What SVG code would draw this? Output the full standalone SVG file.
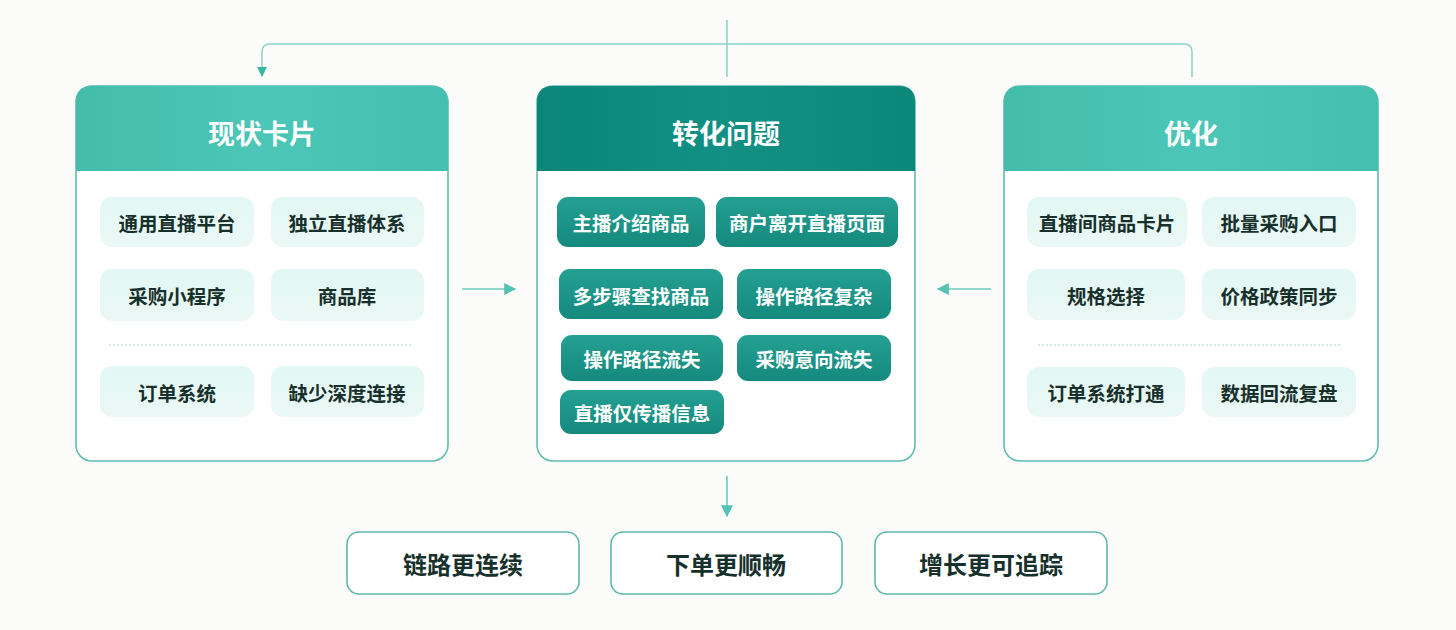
<svg xmlns="http://www.w3.org/2000/svg" width="1456" height="630" viewBox="0 0 1456 630">
<defs>
<linearGradient id="hdrLight" x1="0" y1="0" x2="1" y2="0">
<stop offset="0" stop-color="#43bcac"/><stop offset="0.5" stop-color="#4cc6b6"/><stop offset="1" stop-color="#45c0b0"/>
</linearGradient>
<linearGradient id="hdrDark" x1="0" y1="0" x2="1" y2="0">
<stop offset="0" stop-color="#0b8679"/><stop offset="0.5" stop-color="#119083"/><stop offset="1" stop-color="#0c887b"/>
</linearGradient>
<linearGradient id="pillDark" x1="0" y1="0" x2="0" y2="1">
<stop offset="0" stop-color="#24a093"/><stop offset="1" stop-color="#15897d"/>
</linearGradient>
<linearGradient id="pillLight" x1="0" y1="0" x2="0" y2="1">
<stop offset="0" stop-color="#e2f8f4"/><stop offset="1" stop-color="#ebf8f5"/>
</linearGradient>
<marker id="arr" viewBox="0 0 10 10" refX="9" refY="5" markerWidth="10" markerHeight="10" markerUnits="userSpaceOnUse" orient="auto">
<path d="M0,0 L10,5 L0,10 z" fill="#3db5a6"/>
</marker>
<marker id="arrL" viewBox="0 0 10 10" refX="9" refY="5" markerWidth="14" markerHeight="12" markerUnits="userSpaceOnUse" orient="auto">
<path d="M0,0 L10,5 L0,10 z" fill="#52c2b2"/>
</marker>
</defs>
<style>
text{font-family:"Noto Sans CJK SC","Noto Sans",sans-serif;font-weight:700;text-anchor:middle;dominant-baseline:central}
.card{fill:#ffffff;stroke:#5fbdb1;stroke-width:1.6}
.hdr{font-size:27px;fill:#ffffff}
.pl{fill:url(#pillLight)}
.pd{fill:url(#pillDark)}
.tl{font-size:19.5px;fill:#18302c}
.td{font-size:19.5px;fill:#ffffff}
.dash{stroke:#a9d9d2;stroke-width:1;stroke-dasharray:2 2;fill:none}
.conn{fill:none;stroke:#8fd3c9;stroke-width:1.6}
.arrow{fill:none;stroke:#6ccbbd;stroke-width:1.6}
.out{fill:#ffffff;stroke:#5fb8ac;stroke-width:1.6}
.to{font-size:24px;fill:#16302b}
</style>
<rect width="1456" height="630" fill="#fbfcf9"/>

<g id="connectors">
<path class="conn" d="M727,20 V77"/>
<path class="conn" d="M1192,77 V52 Q1192,44 1184,44 H270 Q262,44 262,52 V76" marker-end="url(#arr)"/>
<path class="arrow" d="M462,289 H515" marker-end="url(#arrL)"/>
<path class="arrow" d="M991,289 H938" marker-end="url(#arrL)"/>
<path class="arrow" d="M727,476 V516" marker-end="url(#arrL)"/>
</g>

<g id="card-status">
<rect class="card" x="76" y="86" width="372" height="375" rx="16"/>
<path d="M76,171 V102 Q76,86 92,86 H432 Q448,86 448,102 V171 Z" fill="url(#hdrLight)"/>
<text class="hdr" x="262" y="132">现状卡片</text>
<rect class="pl" x="100" y="197" width="154" height="50" rx="12"/>
<text class="tl" x="177" y="222">通用直播平台</text>
<rect class="pl" x="271" y="197" width="153" height="50" rx="12"/>
<text class="tl" x="347" y="222">独立直播体系</text>
<rect class="pl" x="100" y="269" width="154" height="52" rx="12"/>
<text class="tl" x="177" y="295">采购小程序</text>
<rect class="pl" x="271" y="269" width="153" height="52" rx="12"/>
<text class="tl" x="347" y="295">商品库</text>
<path class="dash" d="M109,345 H412"/>
<rect class="pl" x="100" y="366" width="154" height="51" rx="12"/>
<text class="tl" x="177" y="392">订单系统</text>
<rect class="pl" x="271" y="366" width="153" height="51" rx="12"/>
<text class="tl" x="347" y="392">缺少深度连接</text>
</g>

<g id="card-problem">
<rect class="card" x="537" y="86" width="378" height="375" rx="16"/>
<path d="M537,171 V102 Q537,86 553,86 H899 Q915,86 915,102 V171 Z" fill="url(#hdrDark)"/>
<text class="hdr" x="726" y="132">转化问题</text>
<rect class="pd" x="557" y="197" width="148" height="50" rx="11"/>
<text class="td" x="631" y="222">主播介绍商品</text>
<rect class="pd" x="716" y="197" width="182" height="50" rx="11"/>
<text class="td" x="807" y="222">商户离开直播页面</text>
<rect class="pd" x="559" y="269" width="164" height="50" rx="11"/>
<text class="td" x="641" y="295">多步骤查找商品</text>
<rect class="pd" x="737" y="269" width="154" height="50" rx="11"/>
<text class="td" x="814" y="295">操作路径复杂</text>
<rect class="pd" x="561" y="335" width="162" height="46" rx="11"/>
<text class="td" x="642" y="358">操作路径流失</text>
<rect class="pd" x="737" y="335" width="154" height="46" rx="11"/>
<text class="td" x="814" y="358">采购意向流失</text>
<rect class="pd" x="560" y="390" width="164" height="44" rx="11"/>
<text class="td" x="642" y="412">直播仅传播信息</text>
</g>

<g id="card-optimize">
<rect class="card" x="1004" y="86" width="374" height="375" rx="16"/>
<path d="M1004,171 V102 Q1004,86 1020,86 H1362 Q1378,86 1378,102 V171 Z" fill="url(#hdrLight)"/>
<text class="hdr" x="1191" y="132">优化</text>
<rect class="pl" x="1027" y="197" width="160" height="50" rx="12"/>
<text class="tl" x="1107" y="222">直播间商品卡片</text>
<rect class="pl" x="1202" y="197" width="154" height="50" rx="12"/>
<text class="tl" x="1279" y="222">批量采购入口</text>
<rect class="pl" x="1027" y="269" width="158" height="51" rx="12"/>
<text class="tl" x="1106" y="295">规格选择</text>
<rect class="pl" x="1202" y="269" width="154" height="51" rx="12"/>
<text class="tl" x="1279" y="295">价格政策同步</text>
<path class="dash" d="M1038,345 H1341"/>
<rect class="pl" x="1027" y="367" width="158" height="50" rx="12"/>
<text class="tl" x="1106" y="392">订单系统打通</text>
<rect class="pl" x="1202" y="367" width="154" height="50" rx="12"/>
<text class="tl" x="1279" y="392">数据回流复盘</text>
</g>

<g id="out-1">
<rect class="out" x="347" y="532" width="232" height="62" rx="12"/>
<text class="to" x="463" y="563">链路更连续</text>
</g>
<g id="out-2">
<rect class="out" x="611" y="532" width="231" height="62" rx="12"/>
<text class="to" x="726" y="563">下单更顺畅</text>
</g>
<g id="out-3">
<rect class="out" x="875" y="532" width="232" height="62" rx="12"/>
<text class="to" x="991" y="563">增长更可追踪</text>
</g>
</svg>
